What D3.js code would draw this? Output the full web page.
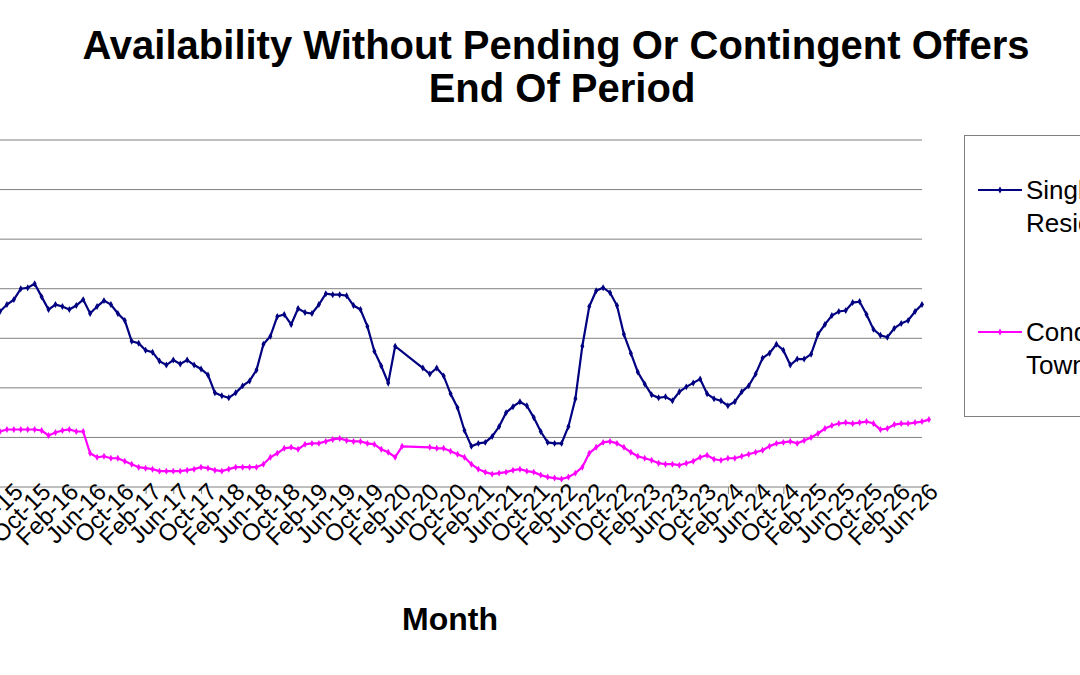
<!DOCTYPE html>
<html>
<head>
<meta charset="utf-8">
<script src="https://cdn.jsdelivr.net/npm/d3@7"></script>
<style>
  body { margin: 0; background: #fff; }
  svg { display: block; font-family: "Liberation Sans", Arial, sans-serif; }
</style>
</head>
<body>
<div id="chart"></div>
<script>
/*****************************************************
 * DATA  (monthly, May-15 .. Jul-26, null = no report)
 *****************************************************/
const monthNames = ["Jan","Feb","Mar","Apr","May","Jun","Jul","Aug","Sep","Oct","Nov","Dec"];
const startYear = 2015, startMonth = 4; // May-15

const singleFamily = [
  177,184,189,200,201,205,192,179,184,182,179,183,189,175,182,188,184,175,168,147,
  145,138,136,127,123,128,124,128,123,119,113,95,92,90,95,
  102,107,118,144,152,172,174,164,180,176,175,184,195,194,194,193,183,179,162,137,122,105,
  142, null, null, null,
  120,114,120,112,94,80,
  57,41,44,45,51,61,75,81,86,82,70,56,45,44,44,61,89,142,182,198,
  201,196,183,154,135,116,104,93,90,91,87,96,101,105,
  109,94,89,87,82,86,96,102,114,130,135,144,138,123,129,129,134,154,164,173,
  177,178,186,187,174,159,153,151,160,165,168,177,184
];

const condoTownhouse = [
  56,58,58,58,58,58,57,52,55,57,58,56,56,34,30,31,29,29,26,23,
  20,19,18,16,16,16,16,17,18,20,19,17,16,18,20,
  20,20,20,23,30,34,39,40,38,43,44,44,46,48,49,47,46,46,44,43,38,35,30,
  41, null, null, null,
  40,39,39,36,33,30,
  23,18,15,13,14,15,17,18,16,15,12,10,9,8,10,14,20,34,40,45,
  46,44,40,35,31,29,27,24,23,23,22,24,26,30,
  32,28,27,29,29,31,33,35,37,41,44,45,46,44,47,50,54,59,62,64,
  65,64,65,66,64,58,59,63,64,64,65,66,68
];

const seriesNames = [["Single Family", "Residential"], ["Condo/", "Townhouse"]];
const seriesColors = ["#000080", "#FF00FF"];
const yTicks = [0, 50, 100, 150, 200, 250, 300, 350];

function monthLabel(i) {
  const m = startMonth + i;
  const y = startYear + Math.floor(m / 12);
  return monthNames[m % 12] + "-" + String(y % 100).padStart(2, "0");
}

/*****************************************************
 * CHART
 *****************************************************/
const width = 1080, height = 675;
const svg = d3.select("#chart").append("svg")
  .attr("width", width).attr("height", height);

const n = singleFamily.length;
const x = d3.scaleLinear().domain([0, n - 1]).range([0, 922]);
const y = d3.scaleLinear().domain([0, 350]).range([487, 140]);

// gridlines
svg.append("g").selectAll("line")
  .data(yTicks.slice(1))
  .enter().append("line")
  .attr("x1", -10).attr("x2", 922)
  .attr("y1", d => y(d)).attr("y2", d => y(d))
  .attr("stroke", "#808080").attr("stroke-width", 1);

// x axis, labelled every 4 months starting Jun-15
const tickIdx = d3.range(1, n, 4);
const xAxis = d3.axisBottom(x)
  .tickValues(tickIdx)
  .tickSize(7)
  .tickFormat(monthLabel);

const gx = svg.append("g")
  .attr("transform", "translate(0,487)")
  .call(xAxis);
gx.select(".domain").attr("stroke", "#808080").attr("d", "M-10,0H922");
gx.selectAll(".tick line").attr("stroke", "#808080");
gx.selectAll(".tick text")
  .attr("font-size", "24px")
  .attr("font-family", "Liberation Sans, Arial, sans-serif")
  .attr("fill", "#000")
  .attr("text-anchor", "end")
  .attr("dx", "0.4em")
  .attr("dy", "0.1em")
  .attr("transform", "rotate(-45) translate(-2,4)");

// lines and markers
[singleFamily, condoTownhouse].forEach((vals, s) => {
  const pts = vals.map((v, i) => ({ i, v })).filter(d => d.v !== null);
  const line = d3.line().x(d => x(d.i)).y(d => y(d.v));
  svg.append("path")
    .datum(pts)
    .attr("fill", "none")
    .attr("stroke", seriesColors[s])
    .attr("stroke-width", 2.2)
    .attr("d", line);
  svg.append("g").selectAll("path")
    .data(pts)
    .enter().append("path")
    .attr("d", d3.symbol(d3.symbolDiamond, 14))
    .attr("transform", d => `translate(${x(d.i)},${y(d.v)})`)
    .attr("fill", seriesColors[s]);
});

// title
svg.append("text")
  .attr("x", 556).attr("y", 59)
  .attr("text-anchor", "middle")
  .attr("font-size", "40px").attr("font-weight", "bold")
  .text("Availability Without Pending Or Contingent Offers");
svg.append("text")
  .attr("x", 562).attr("y", 102)
  .attr("text-anchor", "middle")
  .attr("font-size", "40px").attr("font-weight", "bold")
  .text("End Of Period");

// axis title
svg.append("text")
  .attr("x", 450).attr("y", 630)
  .attr("text-anchor", "middle")
  .attr("font-size", "32px").attr("font-weight", "bold")
  .text("Month");

// legend
const legend = svg.append("g");
legend.append("rect")
  .attr("x", 964.5).attr("y", 135.5)
  .attr("width", 200).attr("height", 281)
  .attr("fill", "#fff").attr("stroke", "#808080");

seriesNames.forEach((lines, s) => {
  const ly = 190 + s * 142;
  legend.append("line")
    .attr("x1", 978).attr("x2", 1022).attr("y1", ly).attr("y2", ly)
    .attr("stroke", seriesColors[s]).attr("stroke-width", 2.2);
  legend.append("path")
    .attr("d", d3.symbol(d3.symbolDiamond, 14))
    .attr("transform", `translate(1000,${ly})`)
    .attr("fill", seriesColors[s]);
  lines.forEach((t, j) => {
    legend.append("text")
      .attr("x", 1026).attr("y", ly + 9 + j * 33)
      .attr("font-size", "26px")
      .text(t);
  });
});
</script>
</body>
</html>
